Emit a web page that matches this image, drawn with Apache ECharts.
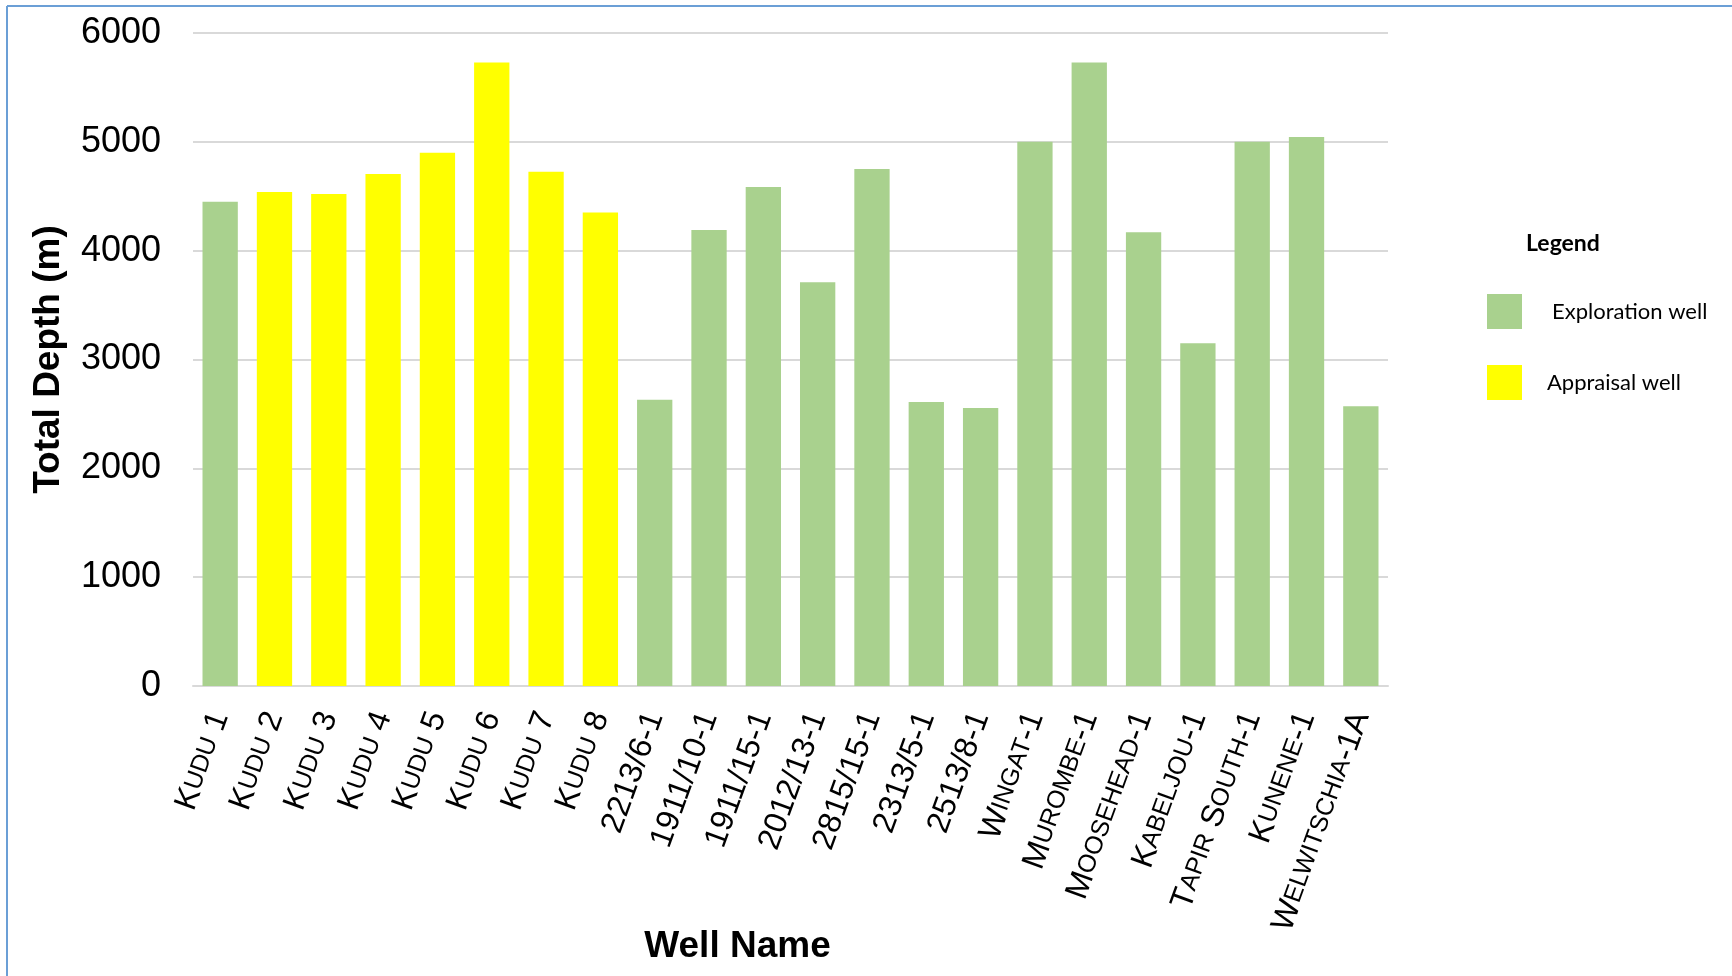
<!DOCTYPE html>
<html>
<head>
<meta charset="utf-8">
<title>Total Depth by Well</title>
<script src="https://cdn.jsdelivr.net/npm/echarts@6/dist/echarts.min.js"></script>
<style>
  html, body { margin: 0; padding: 0; background: #ffffff; }
  #chart { width: 1732px; height: 976px; }
</style>
</head>
<body>
<div id="chart"></div>
<script>
// Well names (lower-case letters are drawn as small capitals)
const wellNames = [
  'Kudu 1', 'Kudu 2', 'Kudu 3', 'Kudu 4', 'Kudu 5', 'Kudu 6', 'Kudu 7', 'Kudu 8',
  '2213/6-1', '1911/10-1', '1911/15-1', '2012/13-1', '2815/15-1', '2313/5-1', '2513/8-1',
  'Wingat-1', 'Murombe-1', 'Moosehead-1', 'Kabeljou-1', 'Tapir South-1', 'Kunene-1', 'Welwitschia-1A'
];

// Total depth of each well, metres
const totalDepth = [
  4450, 4540, 4520, 4705, 4900, 5730, 4725, 4350,
  2630, 4190, 4585, 3710, 4750, 2610, 2555,
  5000, 5730, 4170, 3150, 5000, 5045, 2570
];

// Well type: 'E' = exploration, 'A' = appraisal
const wellType = [
  'E', 'A', 'A', 'A', 'A', 'A', 'A', 'A',
  'E', 'E', 'E', 'E', 'E', 'E', 'E',
  'E', 'E', 'E', 'E', 'E', 'E', 'E'
];

const depthTicks = [0, 1000, 2000, 3000, 4000, 5000, 6000];

const explorationDepth = totalDepth.map((v, i) => wellType[i] === 'E' ? v : '-');
const appraisalDepth = totalDepth.map((v, i) => wellType[i] === 'A' ? v : '-');

// Turn a mixed-case name into rich-text runs: capitals full size, lower-case as small caps
function smallCaps(name) {
  const runs = name.match(/[a-z]+|[^a-z]+/g) || [];
  return runs.map(r => /[a-z]/.test(r) ? '{s|' + r.toUpperCase() + '}' : '{b|' + r + '}').join('');
}

const chart = echarts.init(document.getElementById('chart'), null, { renderer: 'canvas' });

const FONT = '"Liberation Sans", Arial, sans-serif';
const LEGEND_FONT = 'Lato, "Noto Sans", sans-serif';

chart.setOption({
  animation: false,
  backgroundColor: '#ffffff',
  grid: { left: 193, right: 344, top: 33, bottom: 290, containLabel: false },
  xAxis: {
    type: 'category',
    data: wellNames,
    name: 'Well Name',
    nameLocation: 'middle',
    nameGap: 242,
    nameMoveOverlap: false,
    nameTextStyle: {
      fontFamily: FONT, fontSize: 37, fontWeight: 'bold', color: '#000',
      padding: [0, 106, 0, 0]
    },
    axisLine: { show: true, lineStyle: { color: '#d9d9d9', width: 2 } },
    axisTick: { show: false },
    axisLabel: {
      interval: 0,
      rotate: 70,
      margin: 27,
      formatter: smallCaps,
      rich: {
        b: { fontFamily: FONT, fontSize: 32, color: '#000' },
        s: { fontFamily: FONT, fontSize: 25, color: '#000' }
      }
    }
  },
  yAxis: {
    type: 'value',
    min: depthTicks[0],
    max: depthTicks[depthTicks.length - 1],
    interval: 1000,
    name: 'Total Depth (m)',
    nameLocation: 'middle',
    nameRotate: 90,
    nameGap: 126,
    nameMoveOverlap: false,
    nameTextStyle: { fontFamily: FONT, fontSize: 37, fontWeight: 'bold', color: '#000' },
    axisLine: { show: false },
    axisTick: { show: false },
    axisLabel: {
      fontFamily: FONT, fontSize: 36, color: '#000', margin: 32,
      formatter: v => String(v)
    },
    splitLine: { show: true, lineStyle: { color: '#d9d9d9', width: 2 } }
  },
  legend: {
    orient: 'vertical',
    left: 1487,
    top: 294,
    padding: 0,
    itemWidth: 35,
    itemHeight: 35,
    itemGap: 36,
    icon: 'rect',
    data: [
      { name: 'Exploration well', textStyle: { padding: [4, 0, 0, 25] } },
      { name: 'Appraisal well', textStyle: { padding: [4, 0, 0, 20] } }
    ],
    textStyle: { fontFamily: LEGEND_FONT, fontSize: 22, color: '#000' }
  },
  series: [
    {
      name: 'Exploration well',
      type: 'bar',
      stack: 'depth',
      barWidth: '65%',
      itemStyle: { color: '#a9d18e' },
      data: explorationDepth
    },
    {
      name: 'Appraisal well',
      type: 'bar',
      stack: 'depth',
      barWidth: '65%',
      itemStyle: { color: '#ffff00' },
      data: appraisalDepth
    }
  ],
  graphic: [
    // frame lines along the top and left edge of the page
    { type: 'line', shape: { x1: 7, y1: 6, x2: 1732, y2: 6 }, style: { stroke: '#6b9fd6', lineWidth: 2 } },
    { type: 'line', shape: { x1: 7, y1: 6, x2: 7, y2: 976 }, style: { stroke: '#6b9fd6', lineWidth: 2 } },
    {
      type: 'text',
      left: 1526,
      top: 232,
      style: { text: 'Legend', fontFamily: LEGEND_FONT, fontSize: 23, fontWeight: 'bold', fill: '#000' }
    }
  ]
});
</script>
</body>
</html>
